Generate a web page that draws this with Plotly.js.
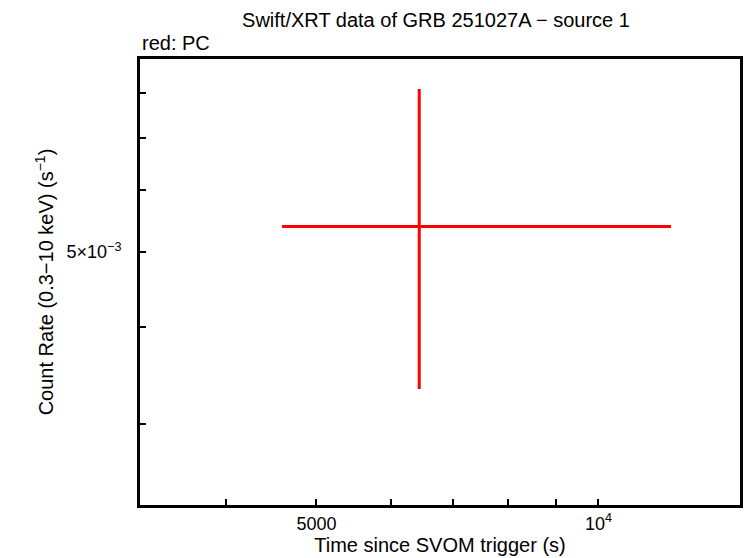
<!DOCTYPE html>
<html>
<head>
<meta charset="utf-8">
<script src="https://cdn.plot.ly/plotly-3.0.1.min.js"></script>
<style>html,body{margin:0;padding:0;background:#fff;}#chart{width:746px;height:558px;}</style>
</head>
<body>
<div id="chart"></div>
<script>
// Data (PC mode point)
const timeCenter = [6438];
const timeErrPlus = [5516];
const timeErrMinus = [1844];
const rate = [5.392e-3];
const rateErrPlus = [2.71e-3];
const rateErrMinus = [2.061e-3];

// Axis ticks
const xTickVals = [4000, 5000, 6000, 7000, 8000, 9000, 10000];
const xTickText = ['', '5000', '', '', '', '', '10<sup>4</sup>'];
const yTickVals = [3e-3, 4e-3, 5e-3, 6e-3, 7e-3, 8e-3];
const yTickText = ['', '', '5×10<sup>−3</sup>', '', '', ''];

const FONT = 'Liberation Sans, Arial, Helvetica, sans-serif';

const trace = {
  x: timeCenter,
  y: rate,
  type: 'scatter',
  mode: 'markers',
  marker: {size: 1, color: '#ff0000'},
  error_x: {type: 'data', symmetric: false, array: timeErrPlus, arrayminus: timeErrMinus, color: '#ff0000', thickness: 3, width: 0},
  error_y: {type: 'data', symmetric: false, array: rateErrPlus, arrayminus: rateErrMinus, color: '#ff0000', thickness: 3, width: 0},
  hoverinfo: 'none',
  showlegend: false
};

const layout = {
  width: 746, height: 558,
  margin: {l: 140, r: 6, t: 59, b: 53, pad: 0},
  paper_bgcolor: '#ffffff', plot_bgcolor: '#ffffff',
  font: {family: FONT, size: 18, color: '#000'},
  title: {text: 'Swift/XRT data of GRB 251027A − source 1', font: {family: FONT, size: 20, color: '#000'},
          xref: 'container', yref: 'container', x: 436/746, xanchor: 'center', y: 1 - 20/558, yanchor: 'middle'},
  xaxis: {
    type: 'log', range: [3.51067, 4.15115],
    tickmode: 'array', tickvals: xTickVals, ticktext: xTickText,
    ticks: 'inside', ticklen: 6, tickwidth: 2, tickcolor: '#000',
    showline: true, linewidth: 3, linecolor: '#000', mirror: true,
    showgrid: false, zeroline: false,
    tickfont: {family: FONT, size: 18, color: '#000'},
    title: {text: 'Time since SVOM trigger (s)', font: {family: FONT, size: 20, color: '#000'}, standoff: 4}
  },
  yaxis: {
    type: 'log', range: [-2.62674, -2.05277],
    tickmode: 'array', tickvals: yTickVals, ticktext: yTickText,
    ticks: 'inside', ticklen: 6, tickwidth: 2, tickcolor: '#000',
    showline: true, linewidth: 3, linecolor: '#000', mirror: true,
    showgrid: false, zeroline: false, ticklabelstandoff: 12,
    tickfont: {family: FONT, size: 18, color: '#000'},
    title: {text: 'Count Rate (0.3−10 keV) (s<sup>−1</sup>)', font: {family: FONT, size: 20, color: '#000'}, standoff: 8}
  },
  annotations: [
    {text: 'red: PC', xref: 'paper', yref: 'paper', x: 0, y: 1, xanchor: 'left', yanchor: 'bottom', yshift: 3,
     showarrow: false, font: {family: FONT, size: 20, color: '#000'}}
  ]
};

Plotly.newPlot('chart', [trace], layout, {displayModeBar: false, staticPlot: true});
</script>
</body>
</html>
